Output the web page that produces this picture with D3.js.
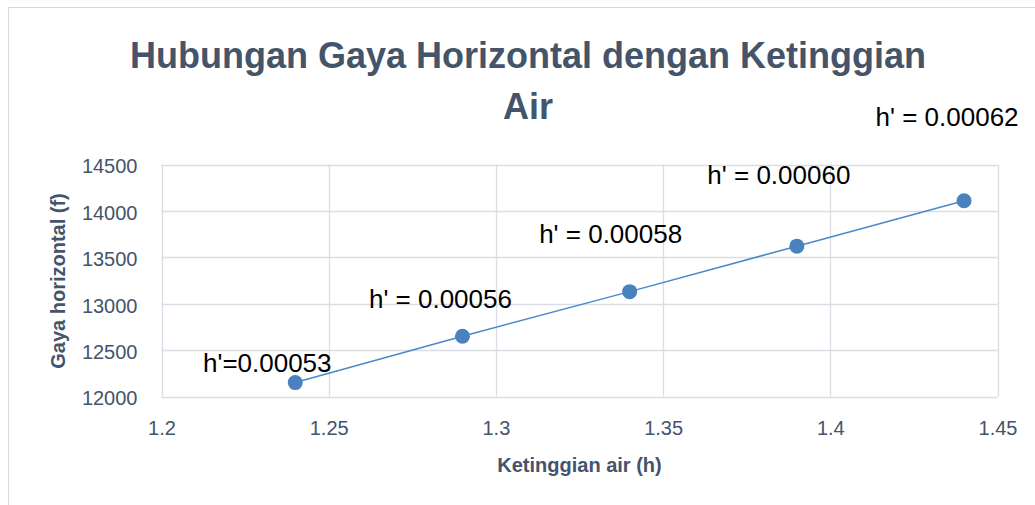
<!DOCTYPE html>
<html>
<head>
<meta charset="utf-8">
<script src="https://cdn.jsdelivr.net/npm/d3@7"></script>
<style>
  html, body { margin: 0; padding: 0; background: #fff; }
  svg { display: block; font-family: "Liberation Sans", Arial, sans-serif; }
</style>
</head>
<body>
<svg id="chart" width="1035" height="505"></svg>
<script>
// ---- data ----
const heights = [1.24, 1.29, 1.34, 1.39, 1.44];          // Ketinggian air (h)
const forces  = [12150, 12650, 13130, 13620, 14110];     // Gaya horizontal (f)
const pointLabels = ["h'=0.00053", "h' = 0.00056", "h' = 0.00058", "h' = 0.00060", "h' = 0.00062"];
const xTicks = [1.2, 1.25, 1.3, 1.35, 1.4, 1.45];
const yTicks = [12000, 12500, 13000, 13500, 14000, 14500];
const titleLines = ["Hubungan Gaya Horizontal dengan Ketinggian", "Air"];
const xTitle = "Ketinggian air (h)";
const yTitle = "Gaya horizontal (f)";

// ---- layout (label offsets relative to point, in px) ----
const labelOffsets = [[-28, -11], [-22, -28], [-19, -49], [-18, -62], [-17, -75]];

(function () {
const svg = d3.select("#chart");
const pLeft = 161.5, pRight = 997.5, pTop = 164.5, pBottom = 396.5;
const x = d3.scaleLinear().domain([1.2, 1.45]).range([pLeft, pRight]);
const y = d3.scaleLinear().domain([12000, 14500]).range([pBottom, pTop]);

const gridColor = "#d9dee6";
const textColor = "#44546a";

// outer chart border
svg.append("rect").attr("x", 8.5).attr("y", 7.5).attr("width", 1040).attr("height", 510)
  .attr("fill", "#fff").attr("stroke", "#d9d9d9").attr("stroke-width", 1);

// gridlines
svg.append("g").selectAll("line").data(xTicks).join("line")
  .attr("x1", d => Math.round(x(d)) + 0.5).attr("x2", d => Math.round(x(d)) + 0.5)
  .attr("y1", pTop).attr("y2", pBottom)
  .attr("stroke", gridColor).attr("stroke-width", 1.3);
svg.append("g").selectAll("line").data(yTicks).join("line")
  .attr("y1", d => Math.round(y(d)) + 0.5).attr("y2", d => Math.round(y(d)) + 0.5)
  .attr("x1", pLeft).attr("x2", pRight)
  .attr("stroke", gridColor).attr("stroke-width", 1.3);

// axes labels via d3 axes
const xAxis = svg.append("g").attr("transform", `translate(0,${pBottom})`)
  .call(d3.axisBottom(x).tickValues(xTicks).tickSize(0).tickPadding(24).tickFormat(d => String(d)));
xAxis.select(".domain").remove();
xAxis.selectAll("text").attr("font-size", 20).attr("fill", textColor)
  .attr("font-family", "Liberation Sans, Arial, sans-serif");

const yAxis = svg.append("g").attr("transform", `translate(${pLeft},0)`)
  .call(d3.axisLeft(y).tickValues(yTicks).tickSize(0).tickPadding(24).tickFormat(d => String(d)));
yAxis.select(".domain").remove();
yAxis.selectAll("text").attr("font-size", 20).attr("fill", textColor)
  .attr("font-family", "Liberation Sans, Arial, sans-serif").attr("dy", "0.42em");

// title
svg.append("g").selectAll("text").data(titleLines).join("text")
  .attr("x", 528).attr("y", (d, i) => 68 + i * 51)
  .attr("text-anchor", "middle").attr("font-size", 36).attr("font-weight", "bold")
  .attr("fill", textColor).text(d => d);

// axis titles
svg.append("text").attr("x", (pLeft + pRight) / 2).attr("y", 472)
  .attr("text-anchor", "middle").attr("font-size", 20).attr("font-weight", "bold")
  .attr("fill", textColor).text(xTitle);
svg.append("text").attr("transform", "translate(65,281) rotate(-90)")
  .attr("text-anchor", "middle").attr("font-size", 20).attr("font-weight", "bold")
  .attr("fill", textColor).text(yTitle);

// series
const pts = heights.map((h, i) => ({ h, f: forces[i], label: pointLabels[i], off: labelOffsets[i] }));
svg.append("path").datum(pts)
  .attr("d", d3.line().x(d => x(d.h)).y(d => y(d.f)))
  .attr("fill", "none").attr("stroke", "#4a89c8").attr("stroke-width", 1.5);
svg.append("g").selectAll("circle").data(pts).join("circle")
  .attr("cx", d => x(d.h)).attr("cy", d => y(d.f)).attr("r", 7.5)
  .attr("fill", "#4a81bf");

// data labels
svg.append("g").selectAll("text").data(pts).join("text")
  .attr("x", d => x(d.h) + d.off[0]).attr("y", d => y(d.f) + d.off[1])
  .attr("text-anchor", "middle").attr("font-size", 26).attr("fill", "#000")
  .text(d => d.label);
})();
</script>
</body>
</html>
